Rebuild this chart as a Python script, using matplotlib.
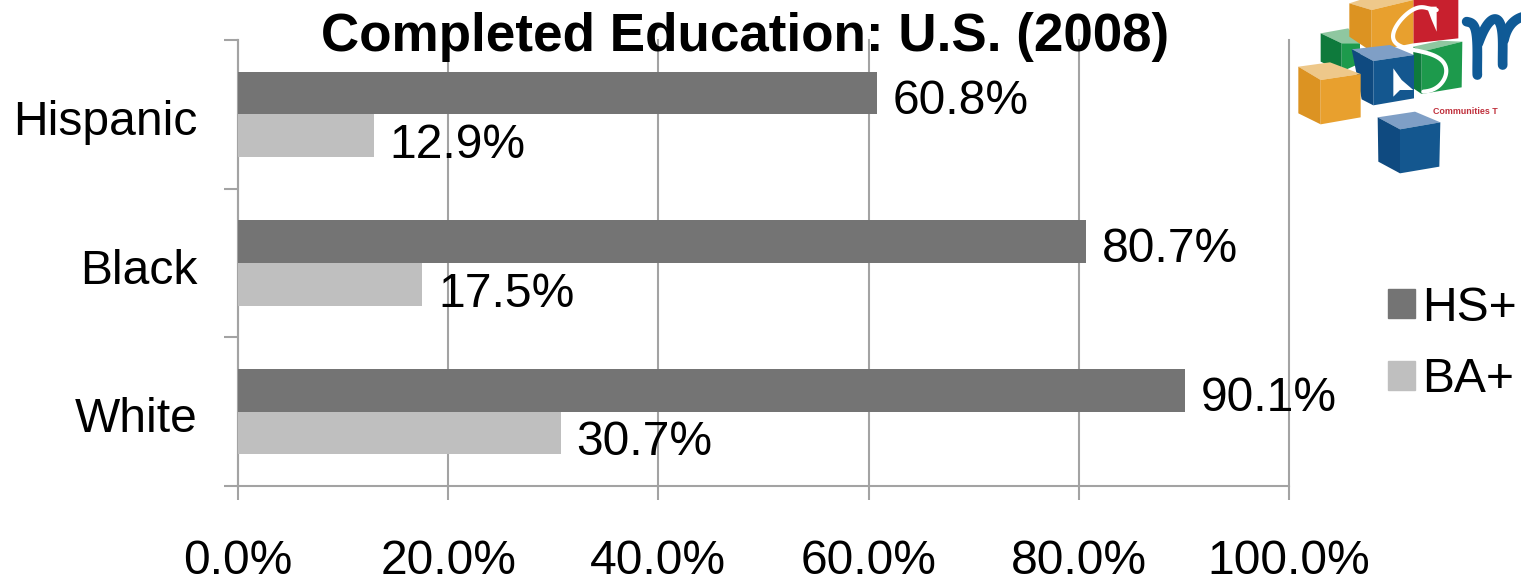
import numpy as np
import matplotlib
matplotlib.use('Agg')
import matplotlib.pyplot as plt
from matplotlib.patches import Polygon, Patch
from matplotlib.transforms import ScaledTranslation

plt.rcParams['font.family'] = ['Liberation Sans', 'DejaVu Sans']

# data
groups = ['White', 'Black', 'Hispanic']
hs_plus = [90.1, 80.7, 60.8]
ba_plus = [30.7, 17.5, 12.9]
x_ticks = [0, 20, 40, 60, 80, 100]
title = 'Completed Education: U.S. (2008)'

W, H = 1521, 582
AXIS = '#a3a3a3'
DARK = '#747474'
LIGHT = '#bfbfbf'
FS = 34.6

fig = plt.figure(figsize=(W / 100, H / 100), dpi=100)
ax = fig.add_axes([238 / W, 1 - 486 / H, (1289 - 238) / W, (486 - 40) / H])

pos = np.arange(len(groups))
bar_h = 0.286
ax.barh(pos + bar_h / 2, hs_plus, bar_h, color=DARK, zorder=3)
ax.barh(pos - bar_h / 2, ba_plus, bar_h, color=LIGHT, zorder=3)

ax.set_xlim(0, 100)
ax.set_ylim(-0.5, 2.5)
ax.grid(True, axis='x', color=AXIS, lw=1.5, zorder=1)
ax.set_axisbelow(True)
for g in ax.get_xgridlines():
    g.set_clip_on(False)

for s in ['top', 'right']:
    ax.spines[s].set_visible(False)
for s in ['left', 'bottom']:
    ax.spines[s].set_color(AXIS)
    ax.spines[s].set_linewidth(1.5)

ax.set_xticks(x_ticks)
ax.set_xticklabels(['%.1f%%' % v for v in x_ticks], fontsize=FS)
ax.set_yticks([-0.5, 0.5, 1.5, 2.5])
ax.set_yticklabels([])
ax.set_yticks(pos, groups, minor=True, fontsize=FS)
ax.tick_params(axis='x', length=10, width=1.5, color=AXIS, pad=28)
ax.tick_params(axis='y', which='major', length=10, width=1.5, color=AXIS)
ax.tick_params(axis='y', which='minor', length=0, pad=29)

# group names sit a little under the middle of their band
shift = ScaledTranslation(0, -3 / 100, fig.dpi_scale_trans)
for lbl in ax.get_yticklabels(minor=True):
    lbl.set_transform(lbl.get_transform() + shift)

for i in pos:
    ax.annotate('%.1f%%' % hs_plus[i], (hs_plus[i], i + bar_h / 2), xytext=(16, -8),
                textcoords='offset pixels', fontsize=FS, va='center', zorder=5)
    ax.annotate('%.1f%%' % ba_plus[i], (ba_plus[i], i - bar_h / 2), xytext=(16, -10),
                textcoords='offset pixels', fontsize=FS, va='center', zorder=5)

fig.text(745 / W, 1 - 37 / H, title, fontsize=38.2, fontweight='bold', ha='center', va='center', zorder=10)

handles = [Patch(color=DARK, label='HS+'), Patch(color=LIGHT, label='BA+')]
fig.legend(handles=handles, loc='center left', bbox_to_anchor=(1388 / W, 1 - 344 / H), frameon=False,
           fontsize=FS, handlelength=0.56, handleheight=0.56, handletextpad=0.15, labelspacing=0.55,
           borderpad=0, borderaxespad=0)

# logo, drawn in pixel coordinates of the crop
logo = fig.add_axes([0, 0, 1, 1], zorder=-1)
logo.set_xlim(0, W)
logo.set_ylim(H, 0)
logo.axis('off')


def px(points):
    return [(1280 + x / 3, y / 3) for x, y in points]


def face(points, color):
    logo.add_patch(Polygon(px(points), closed=True, fc=color, ec='none'))


def cube(a, b, c, d, e, f, g, colors):
    face([a, b, c, d], colors[0])
    face([a, d, f, e], colors[1])
    face([d, c, g, f], colors[2])


def stroke(xs, ys, color, lw):
    # smooth the hand-read outline a little
    t = np.arange(len(xs))
    tt = np.linspace(0, len(xs) - 1, 80)
    cx = np.polyval(np.polyfit(t, xs, min(7, len(xs) - 1)), tt)
    cy = np.polyval(np.polyfit(t, ys, min(7, len(xs) - 1)), tt)
    logo.plot(1280 + cx / 3, cy / 3, color=color, lw=lw, solid_capstyle='round')


BLUE = ('#7f9fc6', '#0f4a80', '#14578f')
ORANGE = ('#eec88a', '#dc9322', '#e8a02e')
GREEN = ('#8fc7a0', '#0e7a3c', '#1d9a4c')

cube((122, 100), (205, 85), (240, 130), (185, 130), (122, 185), (185, 215), (240, 190), GREEN)
face([(400, 0), (535, 0), (535, 115), (400, 130)], '#c8202e')
cube((400, 140), (480, 122), (547, 125), (425, 155), (400, 265), (425, 282), (545, 262), GREEN)
cube((208, 10), (270, -10), (400, 0), (275, 30), (208, 110), (275, 155), (400, 130), ORANGE)
cube((215, 148), (330, 135), (402, 165), (280, 183), (245, 298), (280, 316), (402, 295), BLUE)
cube((55, 200), (150, 187), (242, 222), (122, 240), (55, 340), (122, 373), (242, 352), ORANGE)
cube((293, 352), (405, 335), (481, 367), (360, 388), (295, 485), (360, 520), (478, 500), BLUE)

# white S across the cubes
stroke(np.array([470, 420, 370, 342, 355, 410, 475, 497, 480, 430]),
       np.array([30, 22, 50, 100, 135, 152, 172, 210, 255, 275]), 'white', 3)
face([(340, 205), (365, 240), (400, 270), (360, 270), (340, 290)], 'white')
face([(440, 20), (470, 20), (470, 95), (455, 60)], 'white')

# blue m, runs off the edge
stroke(np.array([560, 580, 590, 592, 592]), np.array([65, 75, 110, 170, 225]), '#0f5a96', 7)
stroke(np.array([595, 615, 640, 660, 668, 668]), np.array([130, 85, 58, 70, 120, 195]), '#0f5a96', 7)
stroke(np.array([672, 685, 705, 730]), np.array([120, 85, 62, 50]), '#0f5a96', 7)
logo.text(1280 + 458 / 3, 335 / 3, 'Communities T', fontsize=6.4, fontweight='bold', color='#c0303c',
          va='center', ha='left')

fig.savefig('out.png', dpi=100)
